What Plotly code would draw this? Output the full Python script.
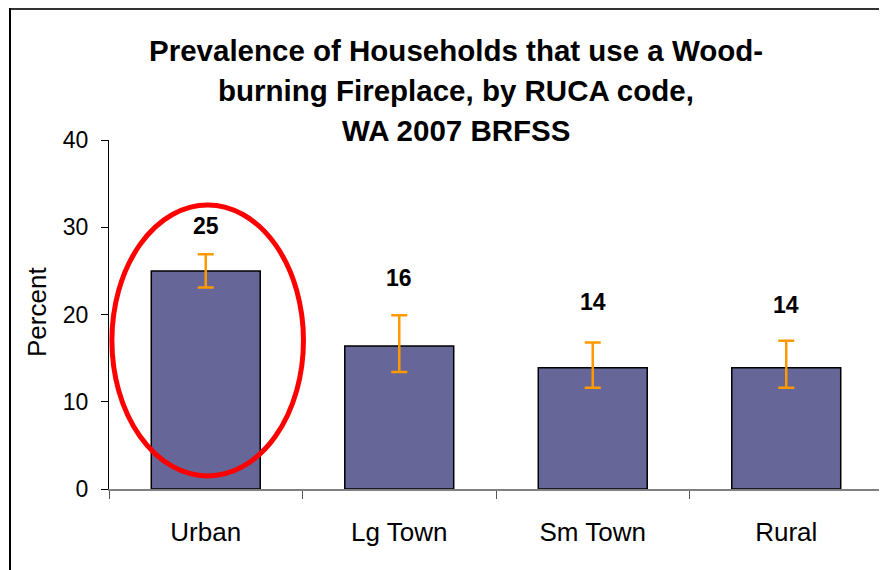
import plotly.graph_objects as go

categories = ["Urban", "Lg Town", "Sm Town", "Rural"]
values = [25.0, 16.4, 13.9, 13.9]
err_plus = [1.9, 3.5, 2.9, 3.1]
err_minus = [1.9, 3.0, 2.3, 2.3]
y_ticks = [0, 10, 20, 30, 40]
title_lines = ["Prevalence of Households that use a Wood-",
               "burning Fireplace, by RUCA code,",
               "WA 2007 BRFSS"]

OFF = 8  # page body margin offset
W, H = 887 - OFF, 570 - OFF
ML, MR, MT, MB = 109 - OFF, 4, 140 - OFF, 81
PW, PH = W - ML - MR, H - MT - MB
FONT = "Liberation Sans, Arial"

def px_x(p):  # reference page pixel -> paper x
    return (p - OFF - ML) / PW

def px_y(p):  # reference page pixel -> paper y
    return (H - MB - (p - OFF)) / PH

fig = go.Figure()
fig.add_trace(go.Bar(
    x=categories, y=values,
    marker=dict(color="#666699", line=dict(color="#000000", width=1.5)),
    error_y=dict(type="data", symmetric=False, array=err_plus, arrayminus=err_minus,
                 color="#FF9900", thickness=2.5, width=8),
    hoverinfo="skip",
))

label_shift = [28, 37, 40, 36]
for i, (c, v, ep) in enumerate(zip(categories, values, err_plus)):
    fig.add_annotation(x=c, y=v + ep, text=f"<b>{round(v):d}</b>", showarrow=False,
                       yanchor="middle", yshift=label_shift[i],
                       font=dict(family=FONT, size=23, color="#000"))

# red ellipse highlighting Urban
fig.add_shape(type="circle", xref="x", yref="y", x0=-0.485, x1=0.505, y0=1.5, y1=32.55,
              line=dict(color="#FF0000", width=5), layer="above")

# chart border (top and left)
fig.add_shape(type="line", xref="paper", yref="paper", x0=px_x(10), x1=px_x(900),
              y0=px_y(8.5), y1=px_y(8.5), line=dict(color="#333333", width=3))
fig.add_shape(type="line", xref="paper", yref="paper", x0=px_x(10), x1=px_x(10),
              y0=px_y(7), y1=px_y(580), line=dict(color="#000000", width=2))

# title
for ln, yc in zip(title_lines, [50, 90, 130]):
    fig.add_annotation(xref="paper", yref="paper", x=px_x(456), y=px_y(yc),
                       text=f"<b>{ln}</b>", showarrow=False, xanchor="center", yanchor="middle",
                       font=dict(family=FONT, size=29.5, color="#000"))

# y-axis title
fig.add_annotation(xref="paper", yref="paper", x=px_x(37), y=px_y(312), text="Percent",
                   textangle=-90, showarrow=False, xanchor="center", yanchor="middle",
                   font=dict(family=FONT, size=26, color="#000"))

fig.update_layout(
    width=W, height=H,
    margin=dict(l=ML, r=MR, t=MT, b=MB),
    paper_bgcolor="white", plot_bgcolor="white",
    showlegend=False, bargap=0.437,
    font=dict(family=FONT, size=24, color="#000"),
)
fig.update_yaxes(range=[0, 40], tickvals=y_ticks, showgrid=False, zeroline=False,
                 showline=True, linecolor="#000", linewidth=1,
                 ticks="outside", ticklen=7, tickcolor="#000",
                 tickfont=dict(size=23), ticklabelstandoff=8)
fig.update_xaxes(range=[-0.5, 3.5], showgrid=False, showline=True, linecolor="#808080",
                 linewidth=1.5, ticks="outside", tickson="boundaries", ticklen=8,
                 tickcolor="#555555", tickfont=dict(size=26), ticklabelstandoff=19)

fig.write_html("out.html")
